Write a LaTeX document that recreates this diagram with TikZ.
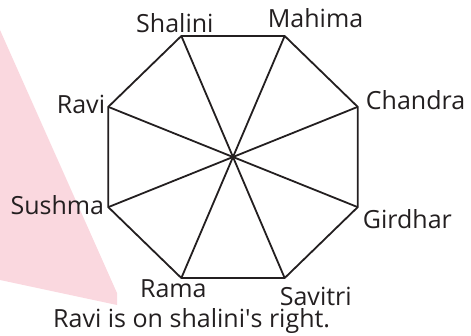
\documentclass[tikz,border=0pt]{standalone}
\usepackage{fontspec}
\setmainfont{Open Sans}
\definecolor{ink}{RGB}{35,31,32}
\definecolor{stamp}{RGB}{250,216,223}

\tikzset{
  seat/.style={font=\fontsize{25}{30}\selectfont, text=ink, inner sep=0pt},
  edge/.style={draw=ink, line width=1.8pt}
}

\begin{document}
\begin{tikzpicture}[x=1pt, y=1pt]
  \useasboundingbox (0,0) rectangle (471,335);
  \fill[stamp] (0,305) -- (117,42) -- (117,30) -- (0,55) -- cycle;

  \coordinate (centre) at (233,178);
  \foreach \who/\ang in {chandra/22.5, mahima/67.5, shalini/112.5, ravi/157.5,
                         sushma/202.5, rama/247.5, savitri/292.5, girdhar/337.5}
    \coordinate (\who) at ([shift={(\ang:135 and 131)}]centre);

  \draw[edge] (chandra) -- (mahima) -- (shalini) -- (ravi) -- (sushma)
    -- (rama) -- (savitri) -- (girdhar) -- cycle;
  \foreach \who in {chandra, mahima, shalini, ravi, sushma, rama, savitri, girdhar}
    \draw[edge] (centre) -- (\who);

  \node[seat, anchor=base, xshift=-6.5pt, yshift=3pt] (lbl-shalini) at (shalini) {Shalini};
  \node[seat, anchor=base west, xshift=-17pt, yshift=8pt] (lbl-mahima) at (mahima) {Mahima};
  \node[seat, anchor=base west, xshift=8pt, yshift=-3pt] (lbl-chandra) at (chandra) {Chandra};
  \node[seat, anchor=base west, xshift=5pt, yshift=-21pt] (lbl-girdhar) at (girdhar) {Girdhar};
  \node[seat, anchor=base west, xshift=-5pt, yshift=-27pt] (lbl-savitri) at (savitri) {Savitri};
  \node[seat, anchor=base, xshift=-8pt, yshift=-19pt] (lbl-rama) at (rama) {Rama};
  \node[seat, anchor=base east, xshift=-4pt, yshift=-7pt] (lbl-sushma) at (sushma) {Sushma};
  \node[seat, anchor=base east, xshift=-3pt, yshift=-7pt] (lbl-ravi) at (ravi) {Ravi};

  \node[seat, anchor=base west] (note) at (53,8) {Ravi is on shalini\textquotesingle s right.};
\end{tikzpicture}
\end{document}
